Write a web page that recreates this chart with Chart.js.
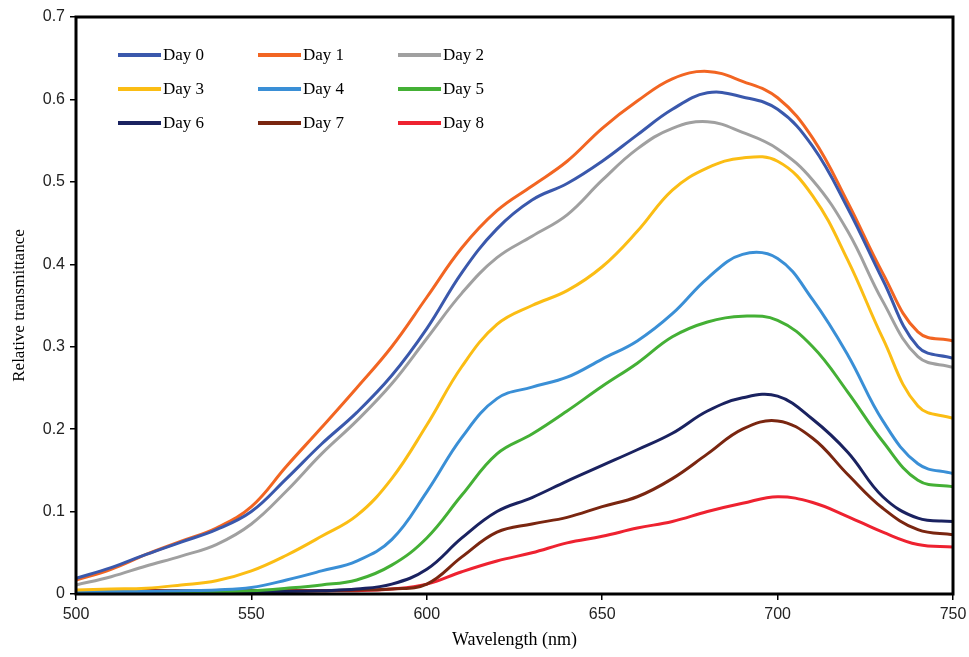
<!DOCTYPE html>
<html>
<head>
<meta charset="utf-8">
<script src="https://cdn.jsdelivr.net/npm/chart.js@4.4.1/dist/chart.umd.min.js"></script>
<style>
    html, body { margin: 0; padding: 0; background: #fff; }
    #wrap { width: 969px; height: 657px; }
</style>
</head>
<body>
<div id="wrap"><canvas id="spectraChart"></canvas></div>
<script>
// Wavelengths (nm), sampled every 10 nm
const wavelengths = [500, 510, 520, 530, 540, 550, 560, 570, 580, 590, 600, 610, 620,
    630, 640, 650, 660, 670, 680, 690, 700, 710, 720, 730, 740, 750];

const day0 = [0.019, 0.032, 0.048, 0.063, 0.078, 0.100, 0.140, 0.182, 0.220, 0.265, 0.322, 0.390, 0.443,
    0.478, 0.498, 0.525, 0.557, 0.588, 0.608, 0.603, 0.588, 0.543, 0.468, 0.381, 0.300, 0.286];
const day1 = [0.017, 0.030, 0.048, 0.064, 0.080, 0.106, 0.155, 0.202, 0.250, 0.300, 0.360, 0.420, 0.465,
    0.495, 0.525, 0.565, 0.598, 0.625, 0.634, 0.622, 0.602, 0.553, 0.475, 0.389, 0.318, 0.307];
const day2 = [0.011, 0.021, 0.034, 0.046, 0.060, 0.085, 0.125, 0.170, 0.210, 0.255, 0.310, 0.365, 0.408,
    0.434, 0.460, 0.502, 0.540, 0.565, 0.573, 0.560, 0.540, 0.502, 0.440, 0.355, 0.288, 0.275];
const day3 = [0.005, 0.006, 0.007, 0.011, 0.016, 0.028, 0.047, 0.070, 0.095, 0.140, 0.205, 0.276, 0.327,
    0.350, 0.368, 0.397, 0.440, 0.490, 0.517, 0.529, 0.525, 0.483, 0.405, 0.310, 0.228, 0.213];
const day4 = [0.003, 0.003, 0.003, 0.004, 0.005, 0.008, 0.017, 0.028, 0.040, 0.066, 0.124, 0.190, 0.237,
    0.251, 0.263, 0.285, 0.307, 0.340, 0.383, 0.412, 0.407, 0.357, 0.290, 0.210, 0.158, 0.146];
const day5 = [0.002, 0.002, 0.002, 0.003, 0.003, 0.004, 0.007, 0.011, 0.017, 0.035, 0.068, 0.120, 0.170,
    0.194, 0.222, 0.252, 0.280, 0.312, 0.330, 0.337, 0.332, 0.300, 0.245, 0.185, 0.138, 0.130];
const day6 = [0.003, 0.003, 0.003, 0.003, 0.003, 0.003, 0.003, 0.004, 0.006, 0.012, 0.030, 0.068, 0.100,
    0.117, 0.137, 0.156, 0.175, 0.195, 0.222, 0.238, 0.240, 0.212, 0.172, 0.118, 0.092, 0.088];
const day7 = [0.004, 0.004, 0.004, 0.004, 0.004, 0.004, 0.004, 0.004, 0.005, 0.006, 0.012, 0.045, 0.075,
    0.085, 0.093, 0.106, 0.118, 0.140, 0.170, 0.200, 0.210, 0.189, 0.145, 0.104, 0.078, 0.072];
const day8 = [0.004, 0.004, 0.004, 0.004, 0.004, 0.004, 0.004, 0.004, 0.004, 0.006, 0.012, 0.027, 0.040,
    0.050, 0.062, 0.070, 0.080, 0.088, 0.100, 0.110, 0.118, 0.111, 0.094, 0.075, 0.060, 0.057];

const seriesLabels = ['Day 0', 'Day 1', 'Day 2', 'Day 3', 'Day 4', 'Day 5', 'Day 6', 'Day 7', 'Day 8'];
const seriesValues = [day0, day1, day2, day3, day4, day5, day6, day7, day8];
const seriesColors = ['#3a58ac', '#f26522', '#a0a0a0', '#fbbd14', '#3a8fd6', '#44b035', '#1a2260', '#7a2610', '#ee2230'];

const yTicks = [0, 0.1, 0.2, 0.3, 0.4, 0.5, 0.6, 0.7];

const serif = '"Liberation Serif", "Times New Roman", serif';
const sans = '"Liberation Sans", Arial, sans-serif';

// Frame around the plot area
const framePlugin = {
    id: 'frame',
    afterDraw(chart) {
        const a = chart.chartArea;
        const ctx = chart.ctx;
        ctx.save();
        ctx.strokeStyle = '#000';
        ctx.lineWidth = 3;
        ctx.strokeRect(a.left, a.top, a.right - a.left, a.bottom - a.top);
        ctx.restore();
    }
};

// Legend inside the plot, 3 columns
const insideLegend = {
    id: 'insideLegend',
    afterDatasetsDraw(chart) {
        const a = chart.chartArea;
        const ctx = chart.ctx;
        ctx.save();
        ctx.font = '17px ' + serif;
        ctx.textBaseline = 'middle';
        ctx.fillStyle = '#000';
        chart.data.datasets.forEach(function(ds, i) {
            const col = i % 3;
            const row = Math.floor(i / 3);
            const x = a.left + 42 + col * 140;
            const y = a.top + 38 + row * 34;
            ctx.strokeStyle = ds.borderColor;
            ctx.lineWidth = 4;
            ctx.beginPath();
            ctx.moveTo(x, y);
            ctx.lineTo(x + 43, y);
            ctx.stroke();
            ctx.fillText(ds.label, x + 45, y + 1);
        });
        ctx.restore();
    }
};

const datasets = seriesLabels.map(function(label, i) {
    return {
        label: label,
        data: wavelengths.map(function(w, j) { return { x: w, y: seriesValues[i][j] }; }),
        borderColor: seriesColors[i],
        backgroundColor: seriesColors[i],
        borderWidth: 3,
        pointRadius: 0,
        tension: 0.4,
        fill: false
    };
});

new Chart(document.getElementById('spectraChart'), {
    type: 'line',
    data: { datasets: datasets },
    plugins: [insideLegend, framePlugin],
    options: {
        responsive: true,
        maintainAspectRatio: false,
        animation: false,
        layout: { padding: { left: 0, top: 17, right: 16, bottom: 0 } },
        plugins: {
            legend: { display: false },
            tooltip: { enabled: false }
        },
        scales: {
            x: {
                type: 'linear',
                min: 500,
                max: 750,
                border: { display: false },
                grid: { drawOnChartArea: false, drawTicks: true, tickLength: 6, color: '#000', lineWidth: 1.5 },
                ticks: { stepSize: 50, color: '#222', font: { family: sans, size: 16 }, padding: 5 },
                title: {
                    display: true,
                    text: 'Wavelength (nm)',
                    color: '#000',
                    font: { family: serif, size: 18 },
                    padding: { top: 0, bottom: 6 }
                },
                afterFit: function(scale) {
                    scale.height = 63;
                    scale.paddingLeft = 0;
                    scale.paddingRight = 0;
                }
            },
            y: {
                min: 0,
                max: 0.7,
                border: { display: false },
                grid: { drawOnChartArea: false, drawTicks: true, tickLength: 6, color: '#000', lineWidth: 1.5 },
                afterBuildTicks: function(scale) {
                    scale.ticks = yTicks.map(function(v) { return { value: v }; });
                },
                ticks: {
                    color: '#222',
                    font: { family: sans, size: 16 },
                    padding: 5,
                    callback: function(v) { return v === 0 ? '0' : v.toFixed(1); }
                },
                title: {
                    display: true,
                    text: 'Relative transmittance',
                    color: '#000',
                    font: { family: serif, size: 17 },
                    padding: { top: 9, bottom: 0 }
                },
                afterFit: function(scale) { scale.width = 76; }
            }
        }
    }
});
</script>
</body>
</html>
